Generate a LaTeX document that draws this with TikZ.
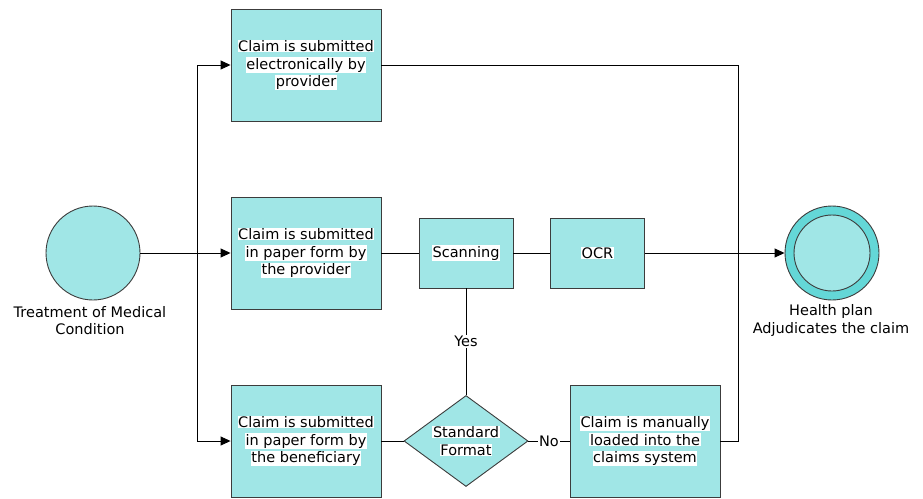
\documentclass[tikz,border=0pt]{standalone}
\usepackage{fontspec}
\setmainfont{DejaVu Sans}
\usetikzlibrary{shapes.geometric,arrows.meta}
\definecolor{tealfill}{RGB}{160,230,230}
\definecolor{tealring}{RGB}{100,215,215}
\definecolor{boxline}{RGB}{60,60,60}
\newcommand\wl[1]{{\setlength\fboxsep{0.6pt}\colorbox{white}{#1}}}
\tikzset{
  txt/.style={font=\fontsize{14.5}{17.6}\selectfont},
  procbox/.style={txt,draw=boxline,fill=tealfill,line width=0.9pt,minimum width=150pt,minimum height=112pt,align=center,inner sep=0pt},
  smallbox/.style={txt,draw=boxline,fill=tealfill,line width=0.9pt,minimum width=94pt,minimum height=70pt,align=center,inner sep=0pt},
  decbox/.style={txt,diamond,draw=boxline,fill=tealfill,line width=0.9pt,minimum width=124pt,minimum height=91pt,aspect=1.36,align=center,inner sep=0pt},
  lbl/.style={txt,align=center,inner sep=0pt},
  conn/.style={line width=0.9pt,draw=black},
  arr/.style={conn,-{Triangle[length=10pt,width=9pt]}},
}
\begin{document}
\begin{tikzpicture}[x=1pt,y=-1pt]
\useasboundingbox (0,0) rectangle (923,498);
% nodes
\node[circle,draw=boxline,fill=tealfill,line width=0.9pt,minimum size=94pt,inner sep=0pt] (start) at (93,253) {};
\node[lbl] (startl) at (90,320.5) {Treatment of Medical\\Condition};
\node[procbox] (b1) at (306,65) {\wl{Claim is submitted}\\\wl{electronically by}\\\wl{provider}};
\node[procbox] (b2) at (306,253) {\wl{Claim is submitted}\\\wl{in paper form by}\\\wl{the provider}};
\node[procbox] (b3) at (306,441) {\wl{Claim is submitted}\\\wl{in paper form by}\\\wl{the beneficiary}};
\node[smallbox] (scan) at (466,253) {\wl{Scanning}};
\node[smallbox] (ocr) at (597.5,253) {\wl{OCR}};
\node[decbox] (dec) at (466,441) {\wl{Standard}\\\wl{Format}};
\node[procbox] (man) at (645,441) {\wl{Claim is manually}\\\wl{loaded into the}\\\wl{claims system}};
\node[circle,draw=boxline,fill=tealring,line width=0.9pt,minimum size=94pt,inner sep=0pt] (end) at (832,253) {};
\node[circle,draw=boxline,fill=tealfill,line width=0.9pt,minimum size=76pt,inner sep=0pt] (endin) at (832,253) {};
\node[lbl] (endl) at (831,320.5) {Health plan\\Adjudicates the claim};
% junctions
\coordinate (jl) at (197,253);
\coordinate (jr) at (738,253);
% connectors
\draw[conn] (start) -- (jl);
\draw[arr] (jl) |- (b1.west);
\draw[arr] (jl) -- (b2.west);
\draw[arr] (jl) |- (b3.west);
\draw[conn] (b2) -- (scan);
\draw[conn] (scan) -- (ocr);
\draw[arr] (ocr) -- (end);
\draw[conn] (b1.east) -| (jr);
\draw[conn] (man.east) -| (jr);
\draw[conn] (b3) -- (dec);
\draw[conn] (scan) -- node[lbl,fill=white,inner sep=1pt] (yes) {Yes} (dec);
\draw[conn] (dec) -- node[lbl,fill=white,inner sep=1pt] (no) {No} (man);
\end{tikzpicture}
\end{document}
